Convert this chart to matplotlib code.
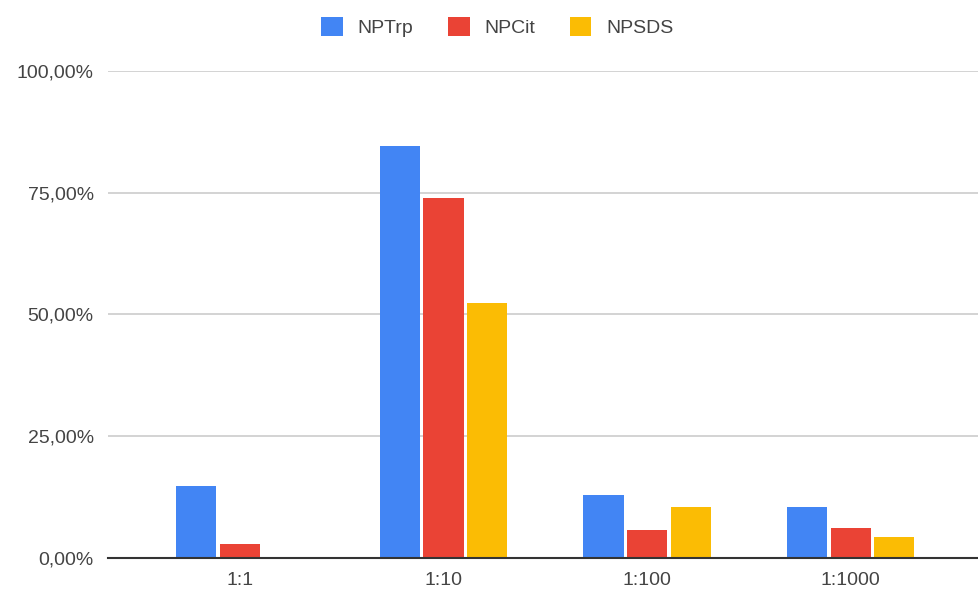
import matplotlib
matplotlib.use('Agg')
import matplotlib.pyplot as plt
import numpy as np
from matplotlib.patches import Patch

plt.rcParams['font.family'] = ['Liberation Sans', 'DejaVu Sans']

# diluições e frações de cada nanopartícula
categorias = ['1:1', '1:10', '1:100', '1:1000']
series = ['NPTrp', 'NPCit', 'NPSDS']
npTrp = [0.148, 0.845, 0.130, 0.104]
npCit = [0.029, 0.740, 0.058, 0.061]
npSDS = [0.0, 0.523, 0.104, 0.044]
cores = ['#4285F4', '#EA4335', '#FBBC04']
yticks = [0, 0.25, 0.5, 0.75, 1.0]

fig = plt.figure(figsize=(9.79, 5.90), dpi=100)
ax = fig.add_axes([0.110, 0.0542, 0.890, 0.8255])

x = np.arange(len(categorias))
w = 0.197
passo = 0.214
for i, (vals, c) in enumerate(zip([npTrp, npCit, npSDS], cores)):
    ax.bar(x + (i - 1) * passo, vals, width=w, color=c, zorder=3)

ax.set_xlim(-0.649, 3.63)
ax.set_ylim(0, 1.0)
ax.set_yticks(yticks)
ax.set_yticklabels([('%.2f%%' % (v * 100)).replace('.', ',') for v in yticks])
ax.set_xticks(x)
ax.set_xticklabels(categorias)
ax.tick_params(axis='both', length=0, labelsize=14, colors='#444444')
ax.tick_params(axis='y', pad=10)
ax.tick_params(axis='x', pad=10)
ax.grid(axis='y', color='#cccccc', linewidth=1.2, zorder=0)
for s in ['top', 'right', 'left']:
    ax.spines[s].set_visible(False)
ax.spines['bottom'].set_color('#333333')
ax.spines['bottom'].set_linewidth(1.5)
ax.spines['bottom'].set_zorder(4)

handles = [Patch(facecolor=c, label=s) for c, s in zip(cores, series)]
fig.legend(handles=handles, loc='upper center', bbox_to_anchor=(0.508, 1.0),
           ncol=3, frameon=False, fontsize=14, handlelength=1.1, handleheight=1.1,
           handletextpad=0.75, columnspacing=1.8, labelcolor='#444444',
           borderaxespad=0.5)

fig.savefig('out.png', dpi=100)
